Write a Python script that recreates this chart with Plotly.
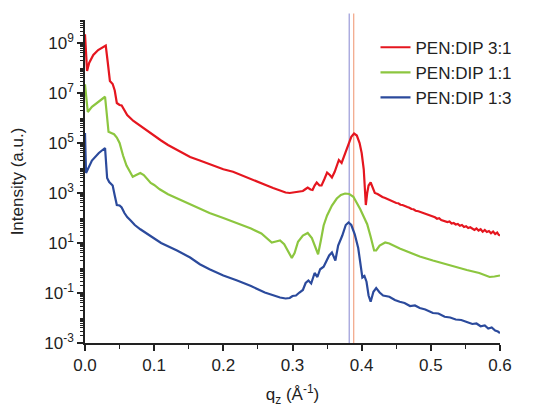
import plotly.graph_objects as go

# ---- data (q_z in 1/Angstrom, log10 of intensity in a.u.) ----
red_q = [0.0, 0.001, 0.003, 0.006, 0.012, 0.019, 0.025, 0.030, 0.033, 0.036, 0.040, 0.043, 0.046, 0.050, 0.053,
         0.057, 0.061, 0.070, 0.080, 0.090, 0.100, 0.110, 0.120, 0.130, 0.140, 0.152, 0.166, 0.180,
         0.200, 0.214, 0.230, 0.249, 0.263, 0.272, 0.282, 0.290, 0.296, 0.303, 0.310, 0.315, 0.319,
         0.322, 0.326, 0.329, 0.332, 0.335, 0.339, 0.342, 0.346, 0.350, 0.354, 0.357, 0.361, 0.364,
         0.367, 0.371, 0.375, 0.380, 0.385, 0.389, 0.393, 0.397, 0.400, 0.403, 0.405, 0.406, 0.408,
         0.410, 0.413, 0.416, 0.419, 0.423, 0.427, 0.430,
         0.434, 0.437, 0.440, 0.443, 0.447, 0.450, 0.453, 0.456, 0.459, 0.463, 0.466, 0.469, 0.472,
         0.475, 0.478, 0.482, 0.485, 0.488, 0.491, 0.494, 0.497, 0.500, 0.503, 0.506, 0.509, 0.512,
         0.515, 0.518, 0.521, 0.524, 0.527, 0.530, 0.533, 0.536, 0.539, 0.542, 0.545, 0.548, 0.551,
         0.554, 0.557, 0.560, 0.563, 0.566, 0.569, 0.572, 0.575, 0.578, 0.581, 0.584, 0.587, 0.590,
         0.593, 0.596, 0.598, 0.600]
red_log = [9.35, 8.9, 7.88, 8.2, 8.52, 8.72, 8.82, 8.90, 8.2, 7.48, 7.36, 7.1, 6.6, 6.52, 6.5,
           6.3, 6.12, 5.88, 5.68, 5.5, 5.3, 5.1, 4.92, 4.76, 4.62, 4.44, 4.3, 4.15,
           3.95, 3.85, 3.66, 3.44, 3.3, 3.2, 3.1, 3.02, 3.0, 3.03, 3.04, 3.08, 3.16,
           3.22, 3.14, 3.12, 3.3, 3.42, 3.3, 3.3, 3.55, 3.82, 3.72, 3.62, 3.85, 4.1,
           4.32, 4.2, 4.5, 4.88, 5.25, 5.38, 5.3, 5.0, 4.6, 3.95, 3.1, 2.52, 3.0,
           3.3, 3.42, 3.2, 3.0, 2.96, 2.88, 2.84,
           2.80, 2.76, 2.74, 2.69, 2.66, 2.60, 2.59, 2.53, 2.52, 2.46, 2.44, 2.41, 2.36,
           2.35, 2.29, 2.27, 2.24, 2.21, 2.17, 2.15, 2.11, 2.10, 2.04, 2.03, 1.97, 1.99,
           1.92, 1.90, 1.88, 1.84, 1.86, 1.78, 1.80, 1.74, 1.76, 1.69, 1.72, 1.64, 1.67,
           1.60, 1.63, 1.56, 1.52, 1.58, 1.50, 1.55, 1.45, 1.52, 1.44, 1.48, 1.39, 1.46,
           1.36, 1.42, 1.33, 1.30]

green_q = [0.0, 0.002, 0.004, 0.010, 0.020, 0.029, 0.031, 0.034, 0.038, 0.042, 0.046, 0.050, 0.055,
           0.060, 0.065, 0.069, 0.074, 0.080, 0.085, 0.090, 0.095, 0.100, 0.108, 0.120, 0.140, 0.152,
           0.163, 0.180, 0.200, 0.220, 0.240, 0.255, 0.262, 0.270, 0.276, 0.282, 0.288, 0.294, 0.299,
           0.303, 0.308, 0.315, 0.322, 0.328, 0.333, 0.337, 0.341, 0.345, 0.350, 0.357, 0.364, 0.370,
           0.376, 0.382, 0.388, 0.393, 0.398, 0.403, 0.408, 0.413, 0.418, 0.421, 0.426, 0.434, 0.440,
           0.455, 0.470, 0.484, 0.503, 0.520, 0.535, 0.552, 0.570, 0.585, 0.592, 0.600]
green_log = [7.35, 6.8, 6.24, 6.45, 6.65, 6.85, 6.3, 5.45, 5.4, 5.35, 5.22, 5.0, 4.5,
             4.1, 3.85, 3.65, 3.72, 3.8, 3.72, 3.55, 3.4, 3.32, 3.15, 2.95, 2.7, 2.55,
             2.42, 2.2, 2.0, 1.8, 1.58, 1.38, 1.2, 1.02, 1.06, 1.1, 0.95, 0.65, 0.4,
             0.6, 1.05, 1.3, 1.4, 1.2, 0.8, 0.55, 1.1, 1.7, 2.1, 2.5, 2.78, 2.92,
             2.98, 2.96, 2.85, 2.62, 2.35, 2.05, 1.75, 1.25, 0.7, 0.7, 0.9, 1.02, 0.98,
             0.78, 0.6, 0.46, 0.3, 0.16, 0.05, -0.08, -0.2, -0.36, -0.34, -0.3]

blue_q = [0.0, 0.0015, 0.010, 0.020, 0.029, 0.032, 0.035, 0.040, 0.043, 0.046, 0.050, 0.053, 0.057,
          0.061, 0.066, 0.072, 0.080, 0.090, 0.098, 0.110, 0.120, 0.133, 0.152, 0.166, 0.180, 0.200,
          0.220, 0.240, 0.260, 0.270, 0.282, 0.290, 0.296, 0.300, 0.305, 0.310, 0.315, 0.319, 0.323,
          0.327, 0.332, 0.336, 0.340, 0.345, 0.349, 0.353, 0.357, 0.362, 0.366, 0.372, 0.377, 0.381,
          0.385, 0.390, 0.395, 0.398, 0.401, 0.404, 0.407, 0.410, 0.413, 0.417, 0.421, 0.426, 0.431,
          0.440, 0.448, 0.455, 0.462, 0.470, 0.477, 0.484, 0.492, 0.503, 0.511, 0.520, 0.528, 0.536,
          0.544, 0.552, 0.560, 0.566, 0.572, 0.578, 0.583, 0.588, 0.593, 0.597, 0.600]
blue_log = [5.4, 3.8, 4.3, 4.6, 4.8, 3.6, 3.44, 3.3, 2.9, 2.52, 2.5, 2.42, 2.2,
            2.04, 1.9, 1.72, 1.55, 1.38, 1.22, 1.0, 0.88, 0.7, 0.42, 0.15, -0.05, -0.3,
            -0.5, -0.72, -0.98, -1.08, -1.18, -1.22, -1.2, -1.12, -1.1, -0.98, -0.88, -0.6, -0.5,
            -0.62, -0.2, -0.36, -0.05, 0.05, 0.25, 0.5, 0.62, 0.3, 0.9, 1.3, 1.72, 1.82,
            1.72, 1.35, 0.8, 0.2, -0.38, -0.32, -0.55, -1.1, -1.35, -0.95, -0.8, -0.98, -1.1,
            -1.15, -1.28, -1.35, -1.4, -1.52, -1.5, -1.6, -1.66, -1.8, -1.82, -1.95, -1.98, -2.06,
            -2.08, -2.16, -2.24, -2.22, -2.33, -2.3, -2.42, -2.38, -2.5, -2.54, -2.6]

series_names = ["PEN:DIP 3:1", "PEN:DIP 1:1", "PEN:DIP 1:3"]
series_colors = ["#e5161f", "#8cc63f", "#2b4a9c"]

peak_lines_q = [0.382, 0.3885]
peak_lines_colors = ["#9a9ad8", "#f2a585"]

y_tick_exp = [-3, -1, 1, 3, 5, 7, 9]
x_tick_vals = [0.0, 0.1, 0.2, 0.3, 0.4, 0.5, 0.6]
x_tick_text = ["0.0", "0.1", "0.2", "0.3", "0.4", "0.5", "0.6"]

# ---- figure ----
fig = go.Figure()
for name, color, qs, logs in zip(series_names, series_colors,
                                 [red_q, green_q, blue_q], [red_log, green_log, blue_log]):
    fig.add_trace(go.Scatter(x=qs, y=[10 ** v for v in logs], mode="lines", name=name,
                             line=dict(color=color, width=2.2), cliponaxis=False))

for qv, col in zip(peak_lines_q, peak_lines_colors):
    fig.add_shape(type="line", xref="x", yref="paper", x0=qv, x1=qv, y0=0, y1=1.02,
                  line=dict(color=col, width=1.2), layer="below")

font_family = "Liberation Sans, Arial, sans-serif"
fig.update_layout(
    width=559, height=411,
    margin=dict(l=85, r=59, t=20, b=68),
    paper_bgcolor="white", plot_bgcolor="white",
    font=dict(family=font_family, size=17, color="#222"),
    showlegend=True,
    legend=dict(x=0.70, y=0.97, xanchor="left", yanchor="top", bgcolor="rgba(0,0,0,0)",
                font=dict(size=17), tracegroupgap=0, itemwidth=30),
)
fig.update_xaxes(
    range=[0, 0.6], tickvals=x_tick_vals, ticktext=x_tick_text, automargin=False,
    showline=True, linecolor="#222", linewidth=1.5, mirror=False, layer="below traces",
    ticks="outside", ticklen=6, tickwidth=1.5, tickcolor="#222", showgrid=False, zeroline=False,
    minor=dict(ticks="outside", ticklen=4, tickwidth=1.2, dtick=0.05, tickcolor="#222", showgrid=False),
    title=dict(text="q<sub>z</sub> (Å<sup>-1</sup>)", font=dict(size=17), standoff=14),
)
fig.update_yaxes(
    type="log", range=[-3, 9.92], automargin=False,
    tickvals=[10 ** e for e in y_tick_exp],
    ticktext=["10<sup>%d</sup>" % e for e in y_tick_exp],
    showline=True, linecolor="#222", linewidth=1.5, mirror=False, layer="below traces",
    ticks="outside", ticklen=6, tickwidth=1.5, tickcolor="#222", showgrid=False, zeroline=False,
    minor=dict(ticks="outside", ticklen=3, tickwidth=1, dtick="D1", tickcolor="#222", showgrid=False),
    title=dict(text="Intensity (a.u.)", font=dict(size=17), standoff=16),
)

fig.write_html("out.html", config={"displayModeBar": False},
               post_script="document.body.style.margin='0';")
